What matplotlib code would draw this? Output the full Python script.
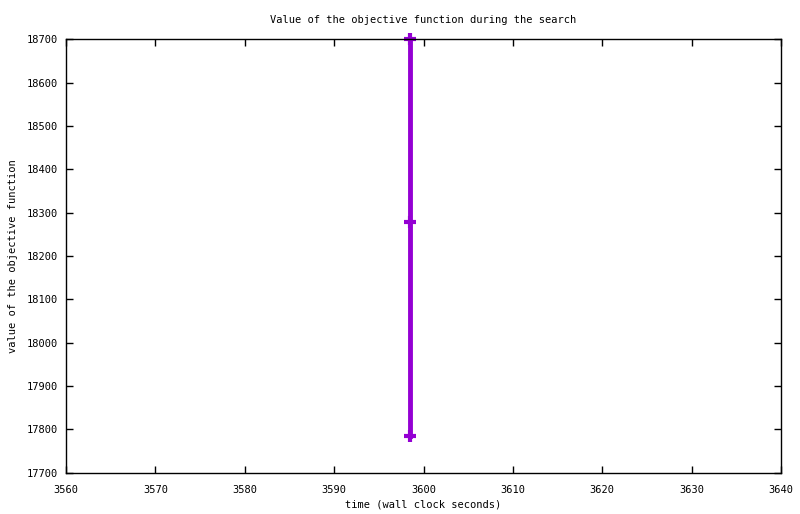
import matplotlib
matplotlib.use("Agg")
import matplotlib.pyplot as plt

# objective value over wall clock time
times = [3598.5, 3598.5, 3598.5]
values = [18700, 18279, 17785]

x_ticks = [3560, 3570, 3580, 3590, 3600, 3610, 3620, 3630, 3640]
y_ticks = [17700, 17800, 17900, 18000, 18100, 18200, 18300, 18400, 18500, 18600, 18700]

plt.rcParams['font.family'] = ['DejaVu Sans Mono']
plt.rcParams['font.size'] = 7.5

fig = plt.figure(figsize=(8, 5.14), dpi=100)
ax = fig.add_axes([0.0825, 0.0807, 0.8938, 0.8428])

ax.plot(times, values, color="#9400d3", linewidth=3.5, marker="+",
        markersize=8, markeredgewidth=3, clip_on=False)

ax.set_xlim(3560, 3640)
ax.set_ylim(17700, 18700)
ax.set_xticks(x_ticks)
ax.set_yticks(y_ticks)
ax.tick_params(direction="in", top=True, right=True, length=5, width=1)
ax.tick_params(axis="x", pad=9)
ax.tick_params(axis="y", pad=6)
for s in ax.spines.values():
    s.set_linewidth(1)

ax.set_title("Value of the objective function during the search", fontsize=7.5, pad=11.5)
ax.set_xlabel("time (wall clock seconds)", labelpad=3)
ax.set_ylabel("value of the objective function", labelpad=6)

fig.savefig("out.png", dpi=100)
